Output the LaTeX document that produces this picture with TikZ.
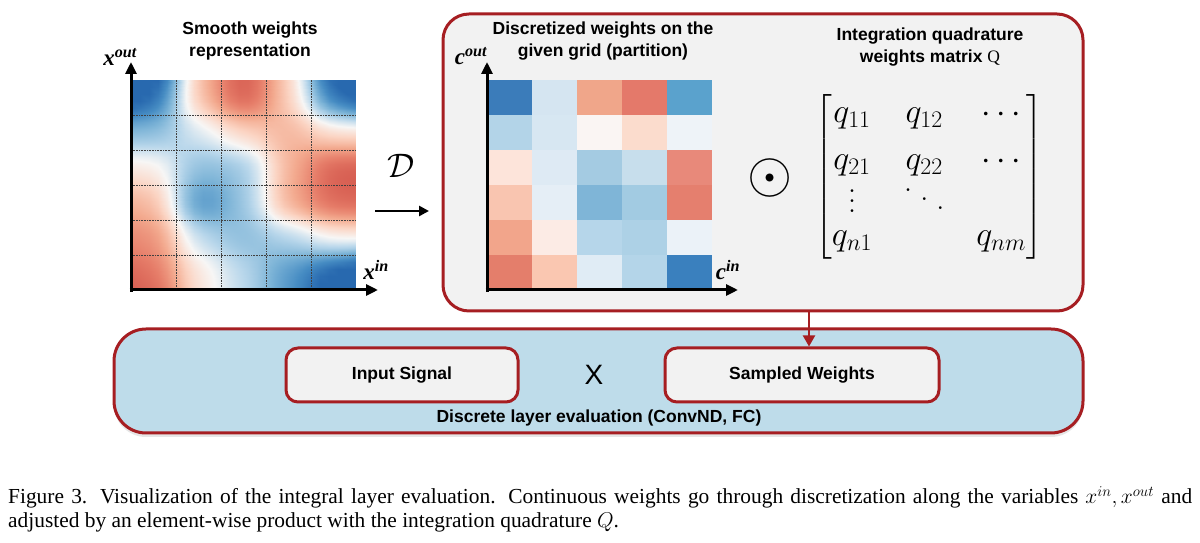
\RequirePackage{fix-cm}
\documentclass[tikz,border=0pt]{standalone}
\usepackage{amsmath}
\usepackage{fontspec}
\setsansfont{Liberation Sans}
\newfontfamily\timesfont{Liberation Serif}
\usepackage{pgfplots}
\pgfplotsset{compat=1.18}
\usetikzlibrary{arrows.meta, positioning, shadows}
\definecolor{frame}{HTML}{A61E22}
\definecolor{panel}{HTML}{F2F2F2}
\definecolor{layer}{HTML}{BEDCEA}
\pgfplotsset{colormap={rdbu}{rgb255=(40,105,175) rgb255=(70,140,195) rgb255=(125,180,215)
    rgb255=(185,215,235) rgb255=(247,246,245) rgb255=(251,212,195) rgb255=(243,170,143)
    rgb255=(230,125,105) rgb255=(210,85,75)}}
% dots that grow with the font size
\newcommand\qvdots{\vbox{\baselineskip=0.3em \lineskiplimit=0pt \hbox{.}\hbox{.}\hbox{.}}}
\newcommand\qddots{\mathinner{\mkern1mu\raise0.62em\hbox{.}\mkern4mu\raise0.36em\hbox{.}\mkern4mu\raise0.1em\hbox{.}\mkern1mu}}
\tikzset{%
    title/.style = {font=\sffamily\bfseries\fontsize{17.5}{21.5}\selectfont, align=center},
    varlabel/.style = {font=\timesfont\bfseries\itshape\fontsize{23}{23}\selectfont, inner sep=0pt},
    axarrow/.style = {draw=black, line width=3pt, -{Triangle[length=12pt, width=11pt]}},
    gridline/.style = {draw=black!75, densely dotted, line width=0.6pt},
    panelbox/.style = {draw=frame, line width=3pt, fill=panel, rounded corners=26pt},
    layerbox/.style = {draw=frame, line width=3pt, fill=layer, rounded corners=32pt,
        drop shadow={shadow xshift=0pt, shadow yshift=-4pt, opacity=0.2}},
    opbox/.style = {draw=frame, line width=3pt, fill=panel, rounded corners=12pt,
        font=\sffamily\bfseries\fontsize{17.5}{21.5}\selectfont},
    feed/.style = {draw=frame, line width=2pt, -{Triangle[length=11pt, width=12pt]}},
    caption/.style = {font=\timesfont\fontsize{21.4}{24}\selectfont, text width=1184pt,
        align=justify, inner sep=0pt},
}

\begin{document}
\begin{tikzpicture}[x=1pt, y=1pt]
    \useasboundingbox (0,0) rectangle (1200,543);
    % continuous weights: smooth blend of anchor values
    \node[title] (smoothttl) at (250,502) {Smooth weights\\representation};
    \gdef\wnum{0}\gdef\wden{0}
    \foreach \px/\py/\pv in {0.5/5.5/-0.85, 1.5/5.5/0.35, 2.5/5.5/0.9, 3.5/5.5/0.25, 4.5/5.5/-0.8,
            0.5/4.5/-0.4, 1.5/4.5/-0.1, 2.5/4.5/0.2, 3.5/4.5/0.4, 4.5/4.5/0.15,
            0.5/3.5/0.1, 1.5/3.5/-0.4, 2.5/3.5/-0.35, 3.5/3.5/0.4, 4.5/3.5/0.85,
            0.5/2.5/0.4, 1.5/2.5/-0.7, 2.5/2.5/-0.35, 3.5/2.5/0.45, 4.5/2.5/0.8,
            0.5/1.5/0.6, 1.5/1.5/-0.2, 2.5/1.5/-0.4, 3.5/1.5/-0.25, 4.5/1.5/0.05,
            0.5/0.5/0.7, 1.5/0.5/0.1, 2.5/0.5/-0.2, 3.5/0.5/-0.6, 4.5/0.5/-0.95,
            0/6/-1.2, 5/6/-1.1, 5/0/-1.2, 0/0/0.85} {
        \xdef\wnum{\wnum+(\pv)*exp(-2.2*((x-\px)^2+(y-\py)^2))}
        \xdef\wden{\wden+exp(-2.2*((x-\px)^2+(y-\py)^2))}
    }
    \begin{axis}[at={(131pt,253pt)}, anchor=south west, width=225pt, height=210pt,
        scale only axis, hide axis, view={0}{90}, xmin=0, xmax=5, ymin=0, ymax=6,
        colormap name=rdbu, point meta min=-1, point meta max=1]
    \addplot3[surf, shader=interp, domain=0:5, y domain=0:6, samples=26, samples y=31,
        point meta=z] {1.15*(\wnum)/(\wden)};
    \end{axis}
    \foreach \gx in {176,221,266,311}
        \draw[gridline] (\gx,253) -- (\gx,463);
    \foreach \gy in {288,323,358,393,428}
        \draw[gridline] (131,\gy) -- (356,\gy);
    \draw[axarrow] (131,251) -- (131,481);
    \draw[axarrow] (129.5,253) -- (378,253);
    \node[varlabel] (xout) at (120,486) {x\textsuperscript{out}};
    \node[varlabel] (xin) at (376,273) {x\textsuperscript{in}};
    % discretization map
    \node[font=\fontsize{34}{34}\selectfont] (dmap) at (401,377) {$\mathcal{D}$};
    \draw[black, line width=2.5pt, -{Triangle[length=10pt, width=10pt]}] (375,332) -- (429,332);
    % discretized weights and quadrature
    \node[panelbox, minimum width=640pt, minimum height=297pt] (quadbox) at (763,380.5) {};
    \node[title] (discttl) at (603,502) {Discretized weights on the\\given grid (partition)};
    \foreach \c [count=\i from 0] in {3B7CBA,D5E5F1,F0A68A,E4796A,5AA2CD,
            B3D4E8,D7E7F2,FAF5F3,FBDCCD,EEF3F8,
            FDE4DA,DEEAF4,A4CBE2,C7DEEC,E8897A,
            F9C5B0,E5EEF6,7FB5D7,A2CBE2,E57F6E,
            F2A58B,FCEBE5,B6D6EA,ADD1E6,EBF2F8,
            E47E6B,FAC7B1,E0ECF5,B4D5E9,3A80BE} {
        \pgfmathtruncatemacro\col{mod(\i,5)}
        \pgfmathtruncatemacro\row{div(\i,5)}
        \definecolor{cell}{HTML}{\c}
        \fill[cell] ({487+45*\col},{463-35*\row}) rectangle ++(45,-35);
    }
    \draw[axarrow] (487,251) -- (487,481);
    \draw[axarrow] (485.5,253) -- (738,253);
    \node[varlabel] (cout) at (471,487) {c\textsuperscript{out}};
    \node[varlabel] (cin) at (728,273) {c\textsuperscript{in}};
    \node[font=\fontsize{58}{58}\selectfont] (prod) at (770,365) {$\odot$};
    \node[title] (quadttl) at (930,496) {Integration quadrature\\weights matrix {\timesfont\mdseries Q}};
    \node[font=\fontsize{34}{36}\selectfont] (qmat) at (929,366) {$\setlength\arraycolsep{15pt}
        \begin{bmatrix} q_{11} & q_{12} & \cdots \\[11pt] q_{21} & q_{22} & \cdots \\[7pt]
        \qvdots & \qddots & \\[-3pt] q_{n1} & & q_{nm} \end{bmatrix}$};
    % discrete layer evaluation
    \node[layerbox, minimum width=969pt, minimum height=104pt] (layer) at (598.5,162) {};
    \node[opbox, minimum width=232pt, minimum height=54pt] (signal) at (402,168) {Input Signal};
    \node[opbox, minimum width=274pt, minimum height=54pt] (sampled) at (802,168) {Sampled Weights};
    \node[font=\sffamily\fontsize{28}{28}\selectfont] (times) at (594,168) {X};
    \node[title] (layerttl) at (599,125) {Discrete layer evaluation (ConvND, FC)};
    \coordinate (tap) at (809,232);
    \draw[feed] (tap) -- (tap |- sampled.north);
    % caption
    \node[caption, anchor=north west] (cap) at (8,57) {Figure 3. Visualization of the integral
        layer evaluation. Continuous weights go through discretization along the variables
        $x^{in}, x^{out}$ and\linebreak adjusted by an element-wise product with the
        integration quadrature $Q$.};
\end{tikzpicture}
\end{document}
